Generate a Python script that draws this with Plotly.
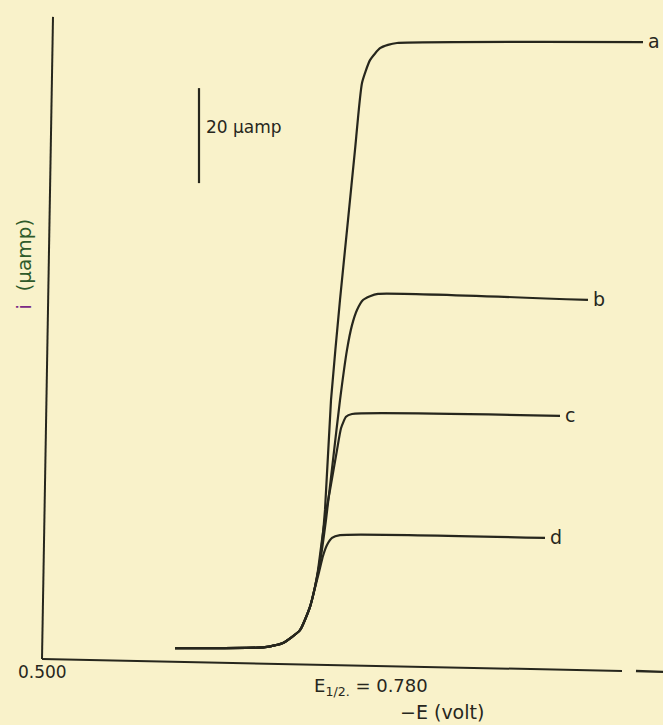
import plotly.graph_objects as go

# Potential (-E, volt) and current (i, microampere)
E_a = [0.633, 0.723, 0.741, 0.758, 0.768, 0.773, 0.778, 0.783, 0.789, 0.798, 0.806, 0.813, 0.820, 0.828, 0.838, 0.846, 0.855, 1.101]
i_a = [2.5, 2.7, 3.6, 6.3, 11.2, 15.4, 21.1, 31.6, 54.7, 75.8, 92.6, 107.4, 121.5, 126.3, 128.8, 129.5, 129.9, 130.1]

E_b = [0.633, 0.723, 0.741, 0.758, 0.768, 0.773, 0.778, 0.784, 0.791, 0.798, 0.805, 0.810, 0.815, 0.821, 0.828, 0.836, 1.046]
i_b = [2.5, 2.7, 3.6, 6.3, 11.2, 15.4, 20.6, 29.5, 42.1, 54.7, 65.3, 70.5, 73.7, 75.8, 76.6, 77.1, 75.8]

E_c = [0.633, 0.723, 0.741, 0.758, 0.768, 0.773, 0.776, 0.780, 0.784, 0.788, 0.795, 0.799, 0.804, 0.810, 1.018]
i_c = [2.5, 2.7, 3.6, 6.3, 11.2, 15.4, 18.9, 25.3, 31.2, 35.8, 44.2, 48.8, 51.2, 51.8, 51.4]

E_d = [0.633, 0.723, 0.741, 0.758, 0.768, 0.773, 0.777, 0.781, 0.785, 0.790, 0.798, 1.003]
i_d = [2.5, 2.7, 3.6, 6.3, 11.2, 15.2, 18.5, 21.9, 24.2, 25.7, 26.3, 25.7]

curve_labels = ["a", "b", "c", "d"]
E_origin = 0.500
E_half = 0.780
scale_bar_uA = 20

INK = "#27271d"
BG = "#f9f2ca"
FONT = "DejaVu Sans"

fig = go.Figure()
series = [(E_a, i_a), (E_b, i_b), (E_c, i_c), (E_d, i_d)]
for (xs, ys), lab in zip(series, curve_labels):
    fig.add_trace(go.Scatter(x=xs, y=ys, mode="lines", name=lab,
                             line=dict(color=INK, width=2.2, shape="spline", smoothing=0.5),
                             showlegend=False, hoverinfo="skip"))
    fig.add_annotation(x=xs[-1], y=ys[-1], text=lab, showarrow=False,
                       xanchor="left", xshift=3, yshift=1,
                       font=dict(family=FONT, size=19, color=INK))

# axes drawn as lines (slightly skewed like the scanned original)
fig.add_shape(type="line", x0=0.500, y0=0.2, x1=0.511, y1=135.4, line=dict(color=INK, width=2))
fig.add_shape(type="line", x0=0.500, y0=0.2, x1=1.080, y1=-2.3, line=dict(color=INK, width=2))
fig.add_shape(type="line", x0=1.094, y0=-2.3, x1=1.121, y1=-2.5, line=dict(color=INK, width=2.4))

# 20 µA scale bar
bar_x = 0.657
bar_y0 = 100.4
fig.add_shape(type="line", x0=bar_x, y0=bar_y0, x1=bar_x, y1=bar_y0 + scale_bar_uA,
              line=dict(color=INK, width=2.2))
fig.add_annotation(x=bar_x, y=112.2, text=f"{scale_bar_uA} µamp", showarrow=False,
                   xanchor="left", xshift=5, yanchor="middle",
                   font=dict(family=FONT, size=17, color=INK))

# text labels
fig.add_annotation(x=E_origin, y=-2.6, text=f"{E_origin:.3f}", showarrow=False,
                   yanchor="middle", font=dict(family=FONT, size=17, color=INK))
fig.add_annotation(x=0.770, y=-5.6, text="E<sub>1/2.</sub> = " + f"{E_half:.3f}",
                   showarrow=False, xanchor="left", yanchor="middle",
                   font=dict(family=FONT, size=18, color=INK))
fig.add_annotation(x=0.900, y=-11.0, text="\u2212E (volt)", showarrow=False,
                   yanchor="middle", font=dict(family=FONT, size=19, color=INK))
fig.add_annotation(x=0.482, y=83.2,
                   text="<span style='color:#7b2a86'>i</span>  <span style='color:#2f5a2a'>(µamp)</span>",
                   showarrow=False, textangle=-90,
                   font=dict(family=FONT, size=20, color=INK))

fig.update_layout(
    width=663, height=725,
    margin=dict(l=0, r=0, t=0, b=0),
    paper_bgcolor=BG, plot_bgcolor=BG,
    xaxis=dict(range=[0.458, 1.121], visible=False, fixedrange=True),
    yaxis=dict(range=[-13.68, 138.95], visible=False, fixedrange=True),
)

fig.write_html("out.html", config={"displayModeBar": False},
               post_script="document.body.style.margin='0';document.body.style.background='" + BG + "';")
